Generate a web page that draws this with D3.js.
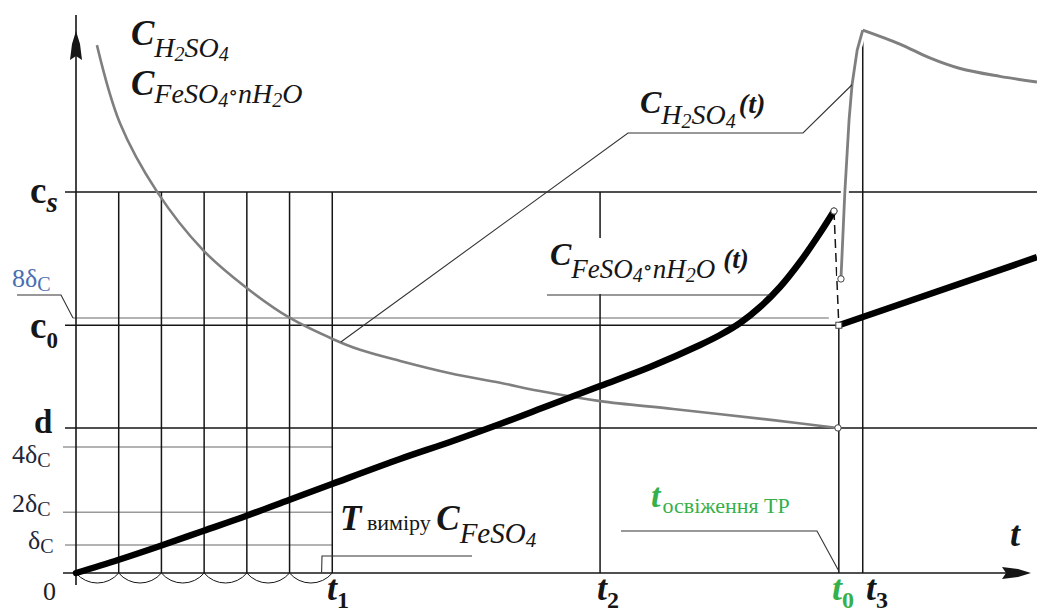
<!DOCTYPE html>
<html>
<head>
<meta charset="utf-8">
<script src="https://cdn.jsdelivr.net/npm/d3@7"></script>
<style>
  html, body { margin: 0; padding: 0; background: #fff; }
  svg { display: block; }
</style>
</head>
<body>
<svg id="chart" width="1037" height="616"></svg>
<script>
// ---- data (time in measurement intervals, concentration in relative units) ----
const gridTimes = [0, 1, 2, 3, 4, 5, 6];                 // measurement instants up to t1
const timeNames = ["t1", "t2", "t0", "t3"];
const timeValues = [6, 12.27, 17.86, 18.42];

const levelNames = ["cs", "8δc", "c0", "d", "4δc", "2δc", "δc"];
const levelValues = [68.3, 45.7, 44.4, 26.0, 22.6, 10.9, 5.0];

// H2SO4 concentration: decay, jump after refresh, decay again
const acidT = [0.49, 1.03, 1.90, 2.97, 3.96, 5.01, 6.02, 6.65, 7.59, 8.76, 9.93, 10.86, 12.27, 13.98, 16.32, 17.84];
const acidV = [94.6, 80.6, 68.3, 57.9, 51.3, 45.7, 41.9, 40.0, 38.0, 35.8, 34.1, 32.6, 30.8, 29.4, 27.4, 26.0];
const acidJumpT = [17.91, 18.00, 18.10, 18.17, 18.29, 18.42];
const acidJumpV = [52.7, 68.1, 81.2, 87.5, 93.7, 97.3];
const acidAfterT = [18.42, 19.29, 19.99, 20.70, 21.63, 22.5];
const acidAfterV = [97.3, 94.8, 92.3, 90.4, 89.0, 88.0];

// FeSO4·nH2O concentration: growth, then restart after refresh
const saltT = [0, 0.983, 1.967, 2.974, 3.980, 4.987, 5.994, 7.586, 8.757, 9.927, 11.098, 12.269, 13.439, 14.610, 15.079, 15.547, 16.015, 16.483, 16.951, 17.420, 17.747];
const saltV = [0, 2.33, 4.84, 7.53, 10.22, 13.08, 15.95, 20.43, 23.48, 26.70, 30.11, 33.51, 36.92, 40.86, 42.65, 44.80, 47.67, 51.25, 55.73, 60.93, 64.87];
const saltAfterT = [17.86, 22.5];
const saltAfterV = [44.4, 56.6];

// ---- scales ----
const svg = d3.select("#chart");
const x = d3.scaleLinear().domain([0, 22.5]).range([76, 1037]);
const y = d3.scaleLinear().domain([0, 100]).range([573, 15]);
const zip = (ts, vs) => ts.map((t, i) => [t, vs[i]]);
const tOf = n => timeValues[timeNames.indexOf(n)];
const vOf = n => levelValues[levelNames.indexOf(n)];

const SERIF = "'Liberation Serif', 'DejaVu Serif', 'Times New Roman', serif";
const INK = "#161616";
const GREY = "#9a9a9a";

// ---- reference levels ----
const gl = svg.append("g");
const levelSpan = {
  "cs":  [65, 1037, INK],
  "8δc": [73, x(tOf("t0")) - 10, GREY],
  "c0":  [65, x(tOf("t0")) - 3, INK],
  "d":   [65, 1037, INK],
  "4δc": [63, x(tOf("t1")), GREY],
  "2δc": [63, x(tOf("t1")), GREY],
  "δc":  [65, x(tOf("t1")), GREY]
};
levelNames.forEach((n, i) => {
  const s = levelSpan[n];
  gl.append("line").attr("x1", s[0]).attr("x2", s[1])
    .attr("y1", y(levelValues[i])).attr("y2", y(levelValues[i]))
    .attr("stroke", s[2]).attr("stroke-width", 1.5);
});

// measurement grid up to t1
gridTimes.slice(1).forEach(t => {
  gl.append("line").attr("x1", x(t)).attr("x2", x(t))
    .attr("y1", y(vOf("cs"))).attr("y2", y(0))
    .attr("stroke", INK).attr("stroke-width", 1.5);
});
// measurement period arcs under the time axis
gridTimes.slice(0, -1).forEach(t => {
  const a = x(t), b = x(t + 1);
  gl.append("path").attr("d", `M${a},${y(0)} A27.8,27.8 0 0 0 ${b},${y(0)}`)
    .attr("fill", "none").attr("stroke", INK).attr("stroke-width", 1);
});

// t2, t3 and t0 verticals
gl.append("line").attr("x1", x(tOf("t2"))).attr("x2", x(tOf("t2")))
  .attr("y1", y(vOf("cs"))).attr("y2", y(0)).attr("stroke", INK).attr("stroke-width", 1.5);
gl.append("line").attr("x1", x(tOf("t3"))).attr("x2", x(tOf("t3")))
  .attr("y1", y(acidJumpV[acidJumpV.length - 1])).attr("y2", y(0)).attr("stroke", INK).attr("stroke-width", 1.5);
gl.append("line").attr("x1", x(tOf("t0"))).attr("x2", x(tOf("t0")))
  .attr("y1", y(saltAfterV[0])).attr("y2", y(0)).attr("stroke", INK).attr("stroke-width", 1.5);
// dashed drop of the salt concentration at refresh
gl.append("line")
  .attr("x1", x(saltT[saltT.length - 1])).attr("y1", y(saltV[saltV.length - 1]))
  .attr("x2", x(saltAfterT[0])).attr("y2", y(saltAfterV[0]))
  .attr("stroke", INK).attr("stroke-width", 1.5).attr("stroke-dasharray", "9,5");

// ---- axes ----
const ax = svg.append("g");
ax.append("line").attr("x1", 76).attr("x2", 76).attr("y1", 15).attr("y2", 585)
  .attr("stroke", INK).attr("stroke-width", 1.6);
ax.append("line").attr("x1", 63).attr("x2", 1020).attr("y1", y(0)).attr("y2", y(0))
  .attr("stroke", INK).attr("stroke-width", 1.6);
ax.append("path").attr("d", "M76,31 L80,44 L82,60 L76,56 L70,60 L72,44 Z").attr("fill", INK);
ax.append("path").attr("d", `M1031,${y(0)} L1018,${y(0) - 4} L1002,${y(0) - 6} L1006,${y(0)} L1002,${y(0) + 6} L1018,${y(0) + 4} Z`).attr("fill", INK);

// ---- curves ----
const line = d3.line().x(d => x(d[0])).y(d => y(d[1]));
const cg = svg.append("g");
cg.append("path").datum(zip(acidT, acidV))
  .attr("d", line.curve(d3.curveCatmullRom)).attr("fill", "none")
  .attr("stroke", "#7f7f7f").attr("stroke-width", 2.6);
cg.append("path").datum(zip(acidJumpT, acidJumpV))
  .attr("d", line.curve(d3.curveLinear)).attr("fill", "none")
  .attr("stroke", "#fff").attr("stroke-width", 8);
cg.append("path").datum(zip(acidJumpT, acidJumpV))
  .attr("d", line.curve(d3.curveLinear)).attr("fill", "none")
  .attr("stroke", "#7f7f7f").attr("stroke-width", 2.8);
cg.append("path").datum(zip(acidAfterT, acidAfterV))
  .attr("d", line.curve(d3.curveCatmullRom)).attr("fill", "none")
  .attr("stroke", "#7f7f7f").attr("stroke-width", 3);
cg.append("path").datum(zip(saltT, saltV))
  .attr("d", line.curve(d3.curveCatmullRom)).attr("fill", "none")
  .attr("stroke", "#000").attr("stroke-width", 6.5).attr("stroke-linecap", "round");
cg.append("path").datum(zip(saltAfterT, saltAfterV))
  .attr("d", line.curve(d3.curveLinear)).attr("fill", "none")
  .attr("stroke", "#000").attr("stroke-width", 6.5);

// end/start markers
const ends = [
  [saltT[saltT.length - 1], saltV[saltV.length - 1], "circle"],
  [acidJumpT[0], acidJumpV[0], "circle"],
  [acidT[acidT.length - 1], acidV[acidV.length - 1], "circle"],
  [saltAfterT[0], saltAfterV[0], "square"]
];
ends.forEach(([t, v, k]) => {
  if (k === "circle") cg.append("circle").attr("cx", x(t)).attr("cy", y(v)).attr("r", 3.2)
    .attr("fill", "#fff").attr("stroke", "#444").attr("stroke-width", 1);
  else cg.append("rect").attr("x", x(t) - 3).attr("y", y(v) - 3).attr("width", 6).attr("height", 6)
    .attr("fill", "#fff").attr("stroke", "#444").attr("stroke-width", 1);
});

// ---- rich text helper ----
function rich(g, px, py, parts, color) {
  const t = g.append("text").attr("x", px).attr("y", py)
    .attr("font-family", SERIF).attr("fill", color || INK);
  let prev = 0;
  parts.forEach(p => {
    const off = p.off || 0;
    t.append("tspan").attr("dy", off - prev).attr("dx", p.dx || 0)
      .attr("font-size", p.s).attr("font-weight", p.b ? "bold" : "normal")
      .attr("font-style", p.i ? "italic" : "normal")
      .attr("fill", p.c || null).text(p.t);
    prev = off;
  });
  return t;
}
const lg = svg.append("g");
const leader = pts => lg.append("path").attr("d", d3.line()(pts))
  .attr("fill", "none").attr("stroke", "#333").attr("stroke-width", 1.1);

// y-axis title
rich(lg, 131, 45, [
  { t: "C", s: 35, b: 1, i: 1 },
  { t: "H", s: 28, i: 1, off: 12 }, { t: "2", s: 20, i: 1, off: 16 },
  { t: "SO", s: 28, i: 1, off: 12 }, { t: "4", s: 20, i: 1, off: 16 }
]);
rich(lg, 131, 95, [
  { t: "C", s: 35, b: 1, i: 1 },
  { t: "FeSO", s: 28, i: 1, off: 8 }, { t: "4", s: 20, i: 1, off: 12 },
  { t: "∘", s: 20, off: 4 }, { t: "nH", s: 28, i: 1, off: 8 },
  { t: "2", s: 20, i: 1, off: 12 }, { t: "O", s: 28, i: 1, off: 8 }
]);

// level labels
rich(lg, 30, 203, [{ t: "c", s: 37, b: 1 }, { t: "s", s: 29, b: 1, i: 1, off: 9 }]);
rich(lg, 30, 338, [{ t: "c", s: 37, b: 1 }, { t: "0", s: 23, b: 1, off: 10 }]);
rich(lg, 34, 433, [{ t: "d", s: 33, b: 1 }]);
const dc = (px, py, k, col) => rich(lg, px, py, [
  { t: k + "δ", s: 26 }, { t: "C", s: 20, off: 4 }
], col);
dc(12, 287, "8", "#4a6db2");
dc(12, 463, "4", "#1e2638");
dc(12, 512, "2", "#1e2638");
dc(28, 549, "", "#1e2638");
rich(lg, 43, 600, [{ t: "0", s: 26 }], "#1e1e1e");
leader([[17, 295], [61, 295], [73, y(vOf("8δc"))]]);

// time labels
rich(lg, 327, 600, [{ t: "t", s: 36, b: 1, i: 1 }, { t: "1", s: 24, b: 1, off: 8 }]);
rich(lg, 597, 600, [{ t: "t", s: 36, b: 1, i: 1 }, { t: "2", s: 24, b: 1, off: 8 }]);
rich(lg, 832, 600, [{ t: "t", s: 36, b: 1, i: 1 }, { t: "0", s: 24, b: 1, off: 8 }], "#35b04a");
rich(lg, 866, 600, [{ t: "t", s: 36, b: 1, i: 1 }, { t: "3", s: 24, b: 1, off: 8 }]);
rich(lg, 1010, 546, [{ t: "t", s: 36, b: 1, i: 1 }]);

// H2SO4(t) callout
const acidAnchor = [x(6.2), y(41.4)];
const acidPeak = [x(acidJumpT[3]), y(acidJumpV[3])];
leader([acidAnchor, [628, 133], [803, 133], acidPeak]);
rich(lg, 640, 113, [
  { t: "C", s: 32, b: 1, i: 1 },
  { t: "H", s: 28, i: 1, off: 11 }, { t: "2", s: 20, i: 1, off: 15 },
  { t: "SO", s: 28, i: 1, off: 11 }, { t: "4", s: 20, i: 1, off: 15 },
  { t: "(t)", s: 28, b: 1, i: 1, off: 0, dx: 3 }
]);

// FeSO4·nH2O(t) callout
lg.append("rect").attr("x", 548).attr("y", 238).attr("width", 220).attr("height", 56).attr("fill", "#fff");
leader([[547, 295], [x(16.25), 295]]);
rich(lg, 550, 265, [
  { t: "C", s: 32, b: 1, i: 1 },
  { t: "FeSO", s: 27, i: 1, off: 13 }, { t: "4", s: 20, i: 1, off: 17 },
  { t: "∘", s: 20, off: 9 }, { t: "nH", s: 27, i: 1, off: 13 },
  { t: "2", s: 20, i: 1, off: 17 }, { t: "O", s: 27, i: 1, off: 13 },
  { t: "(t)", s: 27, b: 1, i: 1, off: 3, dx: 8 }
]);

// measurement period callout
leader([[x(5.75), y(0)], [322, 556], [472, 556]]);
rich(lg, 340, 530, [
  { t: "T", s: 35, b: 1, i: 1 },
  { t: " виміру ", s: 22 },
  { t: "C", s: 35, b: 1, i: 1 },
  { t: "FeSO", s: 29, i: 1, off: 13 }, { t: "4", s: 21, i: 1, off: 17 }
]);

// bath refresh callout
leader([[621, 531], [817, 531], [x(tOf("t0")), y(0) - 2]]);
rich(lg, 651, 507, [
  { t: "t", s: 34, b: 1, i: 1 },
  { t: "освіження ТР", s: 22, off: 6, dx: 2 }
], "#35b04a");
</script>
</body>
</html>
